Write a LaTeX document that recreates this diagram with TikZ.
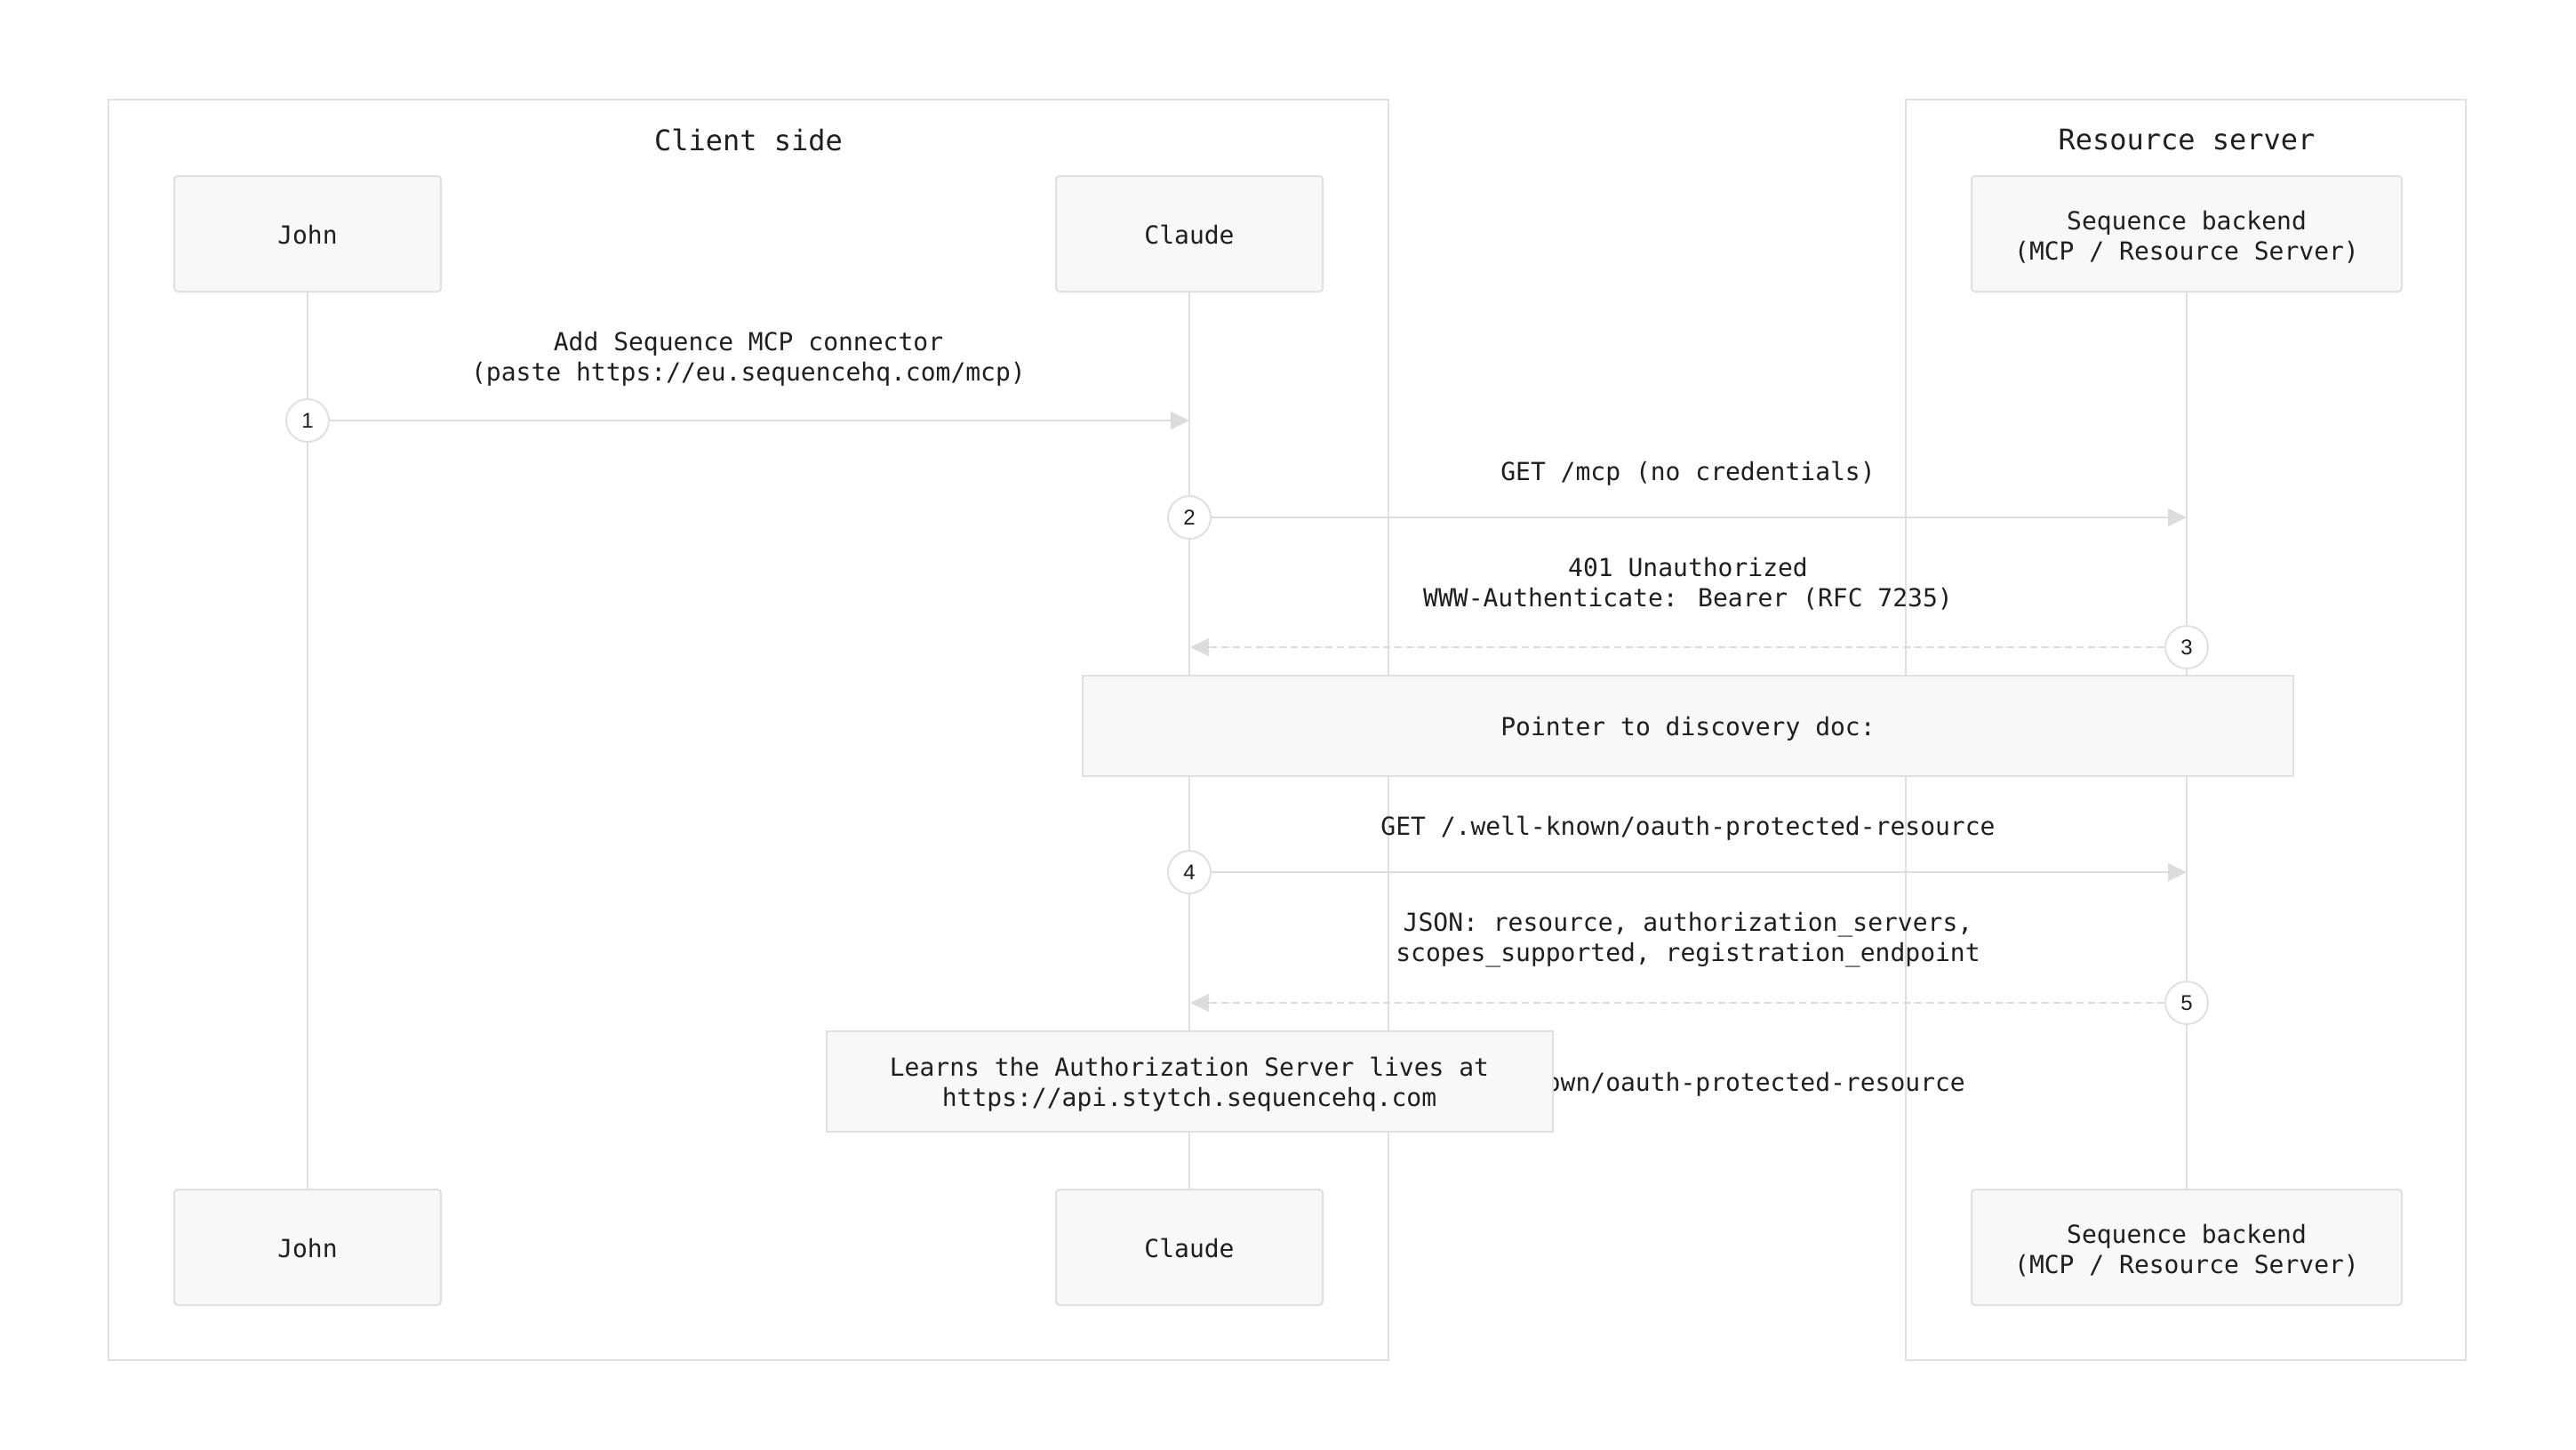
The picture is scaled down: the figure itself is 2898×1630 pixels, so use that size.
\documentclass[tikz,border=0pt]{standalone}
\usepackage{fontspec}
\newfontfamily\monof{DejaVu Sans Mono}
\newfontfamily\numf{Liberation Sans}
\usetikzlibrary{arrows.meta}
\definecolor{linegray}{HTML}{E0E0E0}
\definecolor{boxfill}{HTML}{F8F8F8}
\definecolor{txt}{HTML}{1F1F1F}
\definecolor{arrowgray}{HTML}{DCDCDC}
\begin{document}
\begin{tikzpicture}[x=0.5pt,y=-0.5pt,
  every node/.style={text=txt, font=\monof\fontsize{14}{17}\selectfont},
  grouptitle/.style={font=\monof\fontsize{16}{20}\selectfont},
  actor/.style={draw=linegray, line width=1pt, fill=boxfill, rounded corners=2pt, minimum width=150pt, minimum height=65pt, inner sep=0pt},
  notebox/.style={draw=linegray, line width=1pt, fill=boxfill, minimum height=56.5pt, inner sep=0pt},
  boxtxt/.style={align=center, inner sep=0pt, yshift=-1.8pt},
  onetxt/.style={align=center, inner sep=0pt, yshift=-0.4pt},
  group/.style={draw=linegray, line width=0.8pt},
  lifeline/.style={draw=linegray, line width=1pt},
  stepnum/.style={circle, draw=linegray, line width=1pt, fill=white, minimum size=24pt, inner sep=0pt, font=\numf\fontsize{12}{12}\selectfont},
  msg/.style={draw=arrowgray, line width=1pt, -{Triangle[length=10.5pt,width=10pt]}},
  reply/.style={msg, dash pattern=on 4pt off 2.5pt},
  lbl/.style={align=center, yshift=-1.8pt}
]
\useasboundingbox (0,0) rectangle (2898,1630);
% groups
\draw[group] (122,112) rectangle (1562,1530);
\draw[group] (2144,112) rectangle (2774,1530);
\node[grouptitle] (tclient) at (842,157) {Client side};
\node[grouptitle] (tres) at (2460,157) {Resource server};
% actors
\node[actor, label={[onetxt]center:John}] (johnT) at (346,263) {};
\node[actor, label={[onetxt]center:Claude}] (claudeT) at (1338,263) {};
\node[actor, minimum width=242pt, label={[boxtxt]center:{Sequence backend\\(MCP / Resource Server)}}] (backT) at (2460,263) {};
\node[actor, label={[onetxt]center:John}] (johnB) at (346,1403) {};
\node[actor, label={[onetxt]center:Claude}] (claudeB) at (1338,1403) {};
\node[actor, minimum width=242pt, label={[boxtxt]center:{Sequence backend\\(MCP / Resource Server)}}] (backB) at (2460,1403) {};
% lifelines
\draw[lifeline] (johnT) -- (johnB);
\draw[lifeline] (claudeT) -- (claudeB);
\draw[lifeline] (backT) -- (backB);
% message 1
\node[lbl] (l1) at (842,400) {Add Sequence MCP connector\\(paste https://eu.sequencehq.com/mcp)};
\node[stepnum] (s1) at (346,473) {1};
\coordinate (e1) at (1338,473);
\draw[msg] (s1) -- (e1);
% message 2
\node[lbl] (l2) at (1899,529) {GET /mcp (no credentials)};
\node[stepnum] (s2) at (1338,582) {2};
\coordinate (e2) at (2460,582);
\draw[msg] (s2) -- (e2);
% message 3
\node[lbl] (l3) at (1899,653) {401 Unauthorized\\WWW-Authenticate: Bearer (RFC 7235)};
\node[stepnum] (s3) at (2460,728) {3};
\coordinate (e3) at (1339,728);
\draw[reply] (s3) -- (e3);
% note 1
\node[notebox, minimum width=681pt, label={[boxtxt]center:Pointer to discovery doc:}] (n1) at (1899,816.5) {};
% message 4
\node[lbl] (l4) at (1899,928) {GET /.well-known/oauth-protected-resource};
\node[stepnum] (s4) at (1338,981) {4};
\coordinate (e4) at (2460,981);
\draw[msg] (s4) -- (e4);
% message 5
\node[lbl] (l5) at (1899,1054) {JSON: resource, authorization\_servers,\\scopes\_supported, registration\_endpoint};
\node[stepnum] (s5) at (2460,1128) {5};
\coordinate (e5) at (1339,1128);
\draw[reply] (s5) -- (e5);
% partly hidden text
\node[lbl] (l6) at (1899,1216) {/.well-known/oauth-protected-resource};
% note 2
\node[notebox, minimum width=408.5pt, label={[boxtxt]center:{Learns the Authorization Server lives at\\https://api.stytch.sequencehq.com}}] (n2) at (1338,1216.5) {};
\end{tikzpicture}
\end{document}
